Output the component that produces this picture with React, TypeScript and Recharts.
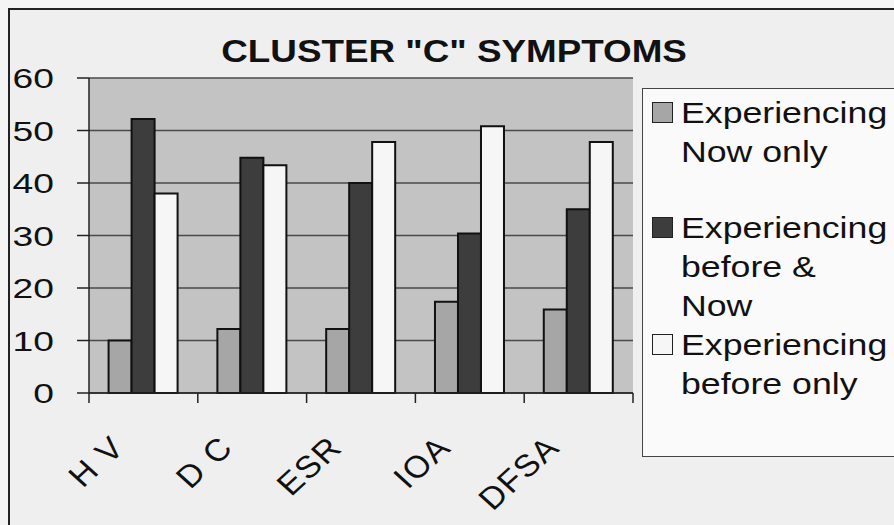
import { BarChart, Bar, XAxis, YAxis, CartesianGrid, Legend } from "recharts";

const categories = ["H V", "D C", "ESR", "IOA", "DFSA"];
const nowOnly = [10, 12.2, 12.2, 17.4, 15.9];
const beforeAndNow = [52.2, 44.8, 40, 30.4, 35];
const beforeOnly = [38, 43.4, 47.8, 50.8, 47.8];
const yTicks = [0, 10, 20, 30, 40, 50, 60];

const seriesNames = [
  "Experiencing Now only",
  "Experiencing before & Now",
  "Experiencing before only",
];
const legendLines = [
  ["Experiencing", "Now only"],
  ["Experiencing", "before &", "Now"],
  ["Experiencing", "before only"],
];

const data = categories.map((name, i) => ({
  name,
  nowOnly: nowOnly[i],
  beforeAndNow: beforeAndNow[i],
  beforeOnly: beforeOnly[i],
}));

const FONT = "'Liberation Sans', Arial, sans-serif";

// the scanned original is stretched sideways, so text gets a little scaleX
function YTick({ x, y, payload }: any) {
  return (
    <text
      transform={`translate(${x} ${y}) scale(1.33 1)`}
      dy="0.36em"
      textAnchor="end"
      fontFamily={FONT}
      fontSize={28}
      fill="#111"
    >
      {payload.value}
    </text>
  );
}

function XTick({ x, y, payload, index, width, visibleTicksCount }: any) {
  const bw = width && visibleTicksCount ? width / visibleTicksCount : 108.8;
  const left = x - bw / 2;
  const ax = x - 17;
  const ay = y + 56;
  return (
    <g>
      <line x1={left} y1={y} x2={left} y2={y + 10} stroke="#222" strokeWidth={1.5} />
      {index === visibleTicksCount - 1 && (
        <line x1={x + bw / 2} y1={y} x2={x + bw / 2} y2={y + 10} stroke="#222" strokeWidth={1.5} />
      )}
      <text
        transform={`translate(${ax} ${ay}) scale(1.1 1) rotate(-45)`}
        textAnchor="end"
        fontFamily={FONT}
        fontSize={31}
        letterSpacing={1.5}
        fill="#111"
      >
        {payload.value}
      </text>
    </g>
  );
}

function LegendBox({ payload }: any) {
  const items = payload || [];
  return (
    <div
      style={{
        boxSizing: "border-box",
        width: 270,
        height: 369,
        borderTop: "1.5px solid #444",
        borderLeft: "1.5px solid #444",
        borderBottom: "1.5px solid #444",
        background: "#fafafa",
        paddingTop: 5,
        fontFamily: FONT,
        fontSize: 29,
        lineHeight: "39px",
        color: "#111",
        textAlign: "left",
      }}
    >
      {items.map((item: any, i: number) => (
        <div
          key={item.value}
          style={{ position: "relative", paddingLeft: 38, marginTop: i === 1 ? 37 : 0 }}
        >
          <span
            style={{
              position: "absolute",
              left: 8.5,
              top: 8,
              width: 19,
              height: 19,
              background: item.color,
              border: "1.5px solid #222",
            }}
          />
          {legendLines[i].map((l) => (
            <div
              key={l}
              style={{ transform: "scaleX(1.23)", transformOrigin: "left center", whiteSpace: "nowrap" }}
            >
              {l}
            </div>
          ))}
        </div>
      ))}
    </div>
  );
}

export default function App() {
  return (
    <div
      style={{
        position: "relative",
        width: 894,
        height: 525,
        overflow: "hidden",
        background: "#f4f4f4",
      }}
    >
      <style>{`body{margin:0}`}</style>
      <div
        style={{
          position: "absolute",
          left: 8,
          top: 8,
          width: 900,
          height: 530,
          borderTop: "2px solid #222",
          borderLeft: "2px solid #222",
          background: "#efefef",
        }}
      />
      <div
        style={{
          position: "absolute",
          left: 8,
          top: 35,
          width: 894,
          textAlign: "center",
          fontFamily: FONT,
          fontWeight: "bold",
          fontSize: 32,
          lineHeight: "32px",
          color: "#111",
          transform: "scaleX(1.15)",
          transformOrigin: "453px center",
          whiteSpace: "nowrap",
        }}
      >
        CLUSTER "C" SYMPTOMS
      </div>
      <div style={{ position: "absolute", left: 0, top: 0 }}>
        <BarChart
          width={894}
          height={525}
          data={data}
          margin={{ top: 78, right: 261, bottom: 0, left: 0 }}
          barCategoryGap="18%"
          barGap={0}
        >
          <CartesianGrid
            vertical={false}
            stroke="#4a4a4a"
            strokeWidth={1.3}
            fill="#c3c3c3"
            fillOpacity={1}
          />
          <XAxis
            dataKey="name"
            height={132}
            tickSize={0}
            tickMargin={0}
            tickLine={false}
            interval={0}
            axisLine={{ stroke: "#222", strokeWidth: 1.5 }}
            tick={<XTick />}
          />
          <YAxis
            width={89}
            domain={[0, 60]}
            ticks={yTicks}
            tickSize={12}
            tickMargin={23}
            axisLine={{ stroke: "#222", strokeWidth: 1.5 }}
            tickLine={{ stroke: "#222", strokeWidth: 1.5 }}
            tick={<YTick />}
          />
          <YAxis
            yAxisId="right"
            orientation="right"
            width={0}
            domain={[0, 60]}
            tick={false}
            tickLine={false}
            axisLine={{ stroke: "#555", strokeWidth: 1.5 }}
          />
          <Legend
            layout="vertical"
            align="center"
            verticalAlign="middle"
            wrapperStyle={{ top: 88, left: 642, width: 270, height: 369 }}
            content={<LegendBox />}
          />
          <Bar
            dataKey="nowOnly"
            name={seriesNames[0]}
            fill="#a6a6a6"
            stroke="#111"
            strokeWidth={2}
            isAnimationActive={false}
          />
          <Bar
            dataKey="beforeAndNow"
            name={seriesNames[1]}
            fill="#3d3d3d"
            stroke="#111"
            strokeWidth={2}
            isAnimationActive={false}
          />
          <Bar
            dataKey="beforeOnly"
            name={seriesNames[2]}
            fill="#f6f6f6"
            stroke="#111"
            strokeWidth={2}
            isAnimationActive={false}
          />
        </BarChart>
      </div>
    </div>
  );
}
